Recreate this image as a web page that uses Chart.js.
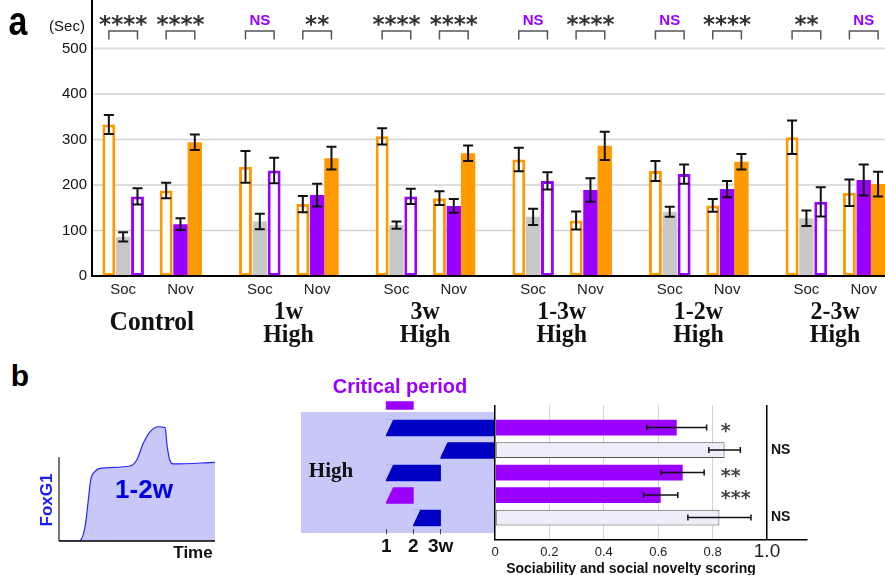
<!DOCTYPE html>
<html>
<head>
<meta charset="utf-8">
<script src="https://cdn.jsdelivr.net/npm/chart.js@4.4.1/dist/chart.umd.min.js"></script>
<style>
  html, body { margin: 0; padding: 0; background: #fff; overflow: hidden; }
  body { position: relative; width: 885px; height: 575px; font-family: 'Liberation Sans', Arial, sans-serif; }
  canvas { position: absolute; }
  .lbl { position: absolute; line-height: 1; white-space: nowrap; transform: translate(-50%, -50%); }
  .lavender { position: absolute; left: 301px; top: 412px; width: 194px; height: 121px; background: #c8c8f8; }
</style>
</head>
<body>
<div class="lavender"></div>
<canvas id="chartA" width="910" height="350" style="left:0;top:0"></canvas>
<canvas id="chartFox" width="175" height="140" style="left:50px;top:405px"></canvas>
<canvas id="chartTime" width="204" height="170" style="left:296px;top:390px"></canvas>
<canvas id="chartScore" width="350" height="180" style="left:470px;top:395px"></canvas>

<div class="lbl" style="left:18px;top:21px;font:bold 40px 'Liberation Sans';transform:translate(-50%,-50%) scaleX(0.85)">a</div>
<div class="lbl" style="left:67px;top:25px;font:15px 'Liberation Sans';color:#111">(Sec)</div>
<div class="lbl" style="left:20px;top:376px;font:bold 30px 'Liberation Sans'">b</div>
<div class="lbl" style="left:47px;top:500px;font:bold 17px 'Liberation Sans';color:#1a1aff;transform:translate(-50%,-50%) rotate(-90deg)">FoxG1</div>
<div class="lbl" style="left:144px;top:489px;font:bold 26px 'Liberation Sans';color:#0000e6">1-2w</div>
<div class="lbl" style="left:193px;top:553px;font:bold 17px 'Liberation Sans';color:#111">Time</div>
<div class="lbl" style="left:400px;top:386px;font:bold 20px 'Liberation Sans';color:#9900ff">Critical period</div>
<div class="lbl" style="left:331px;top:470px;font:bold 21px 'Liberation Serif';color:#111">High</div>
<div class="lbl" style="left:631px;top:568px;font:bold 14px 'Liberation Sans';color:#111">Sociability and social novelty scoring</div>

<script>
// ---- panel a: time spent (sec) ----
const groupNames = [['Control'], ['1w', 'High'], ['3w', 'High'], ['1-3w', 'High'], ['1-2w', 'High'], ['2-3w', 'High']];
const testNames = ['Soc', 'Nov'];
const socOrange = [333, 240, 307, 256, 231, 305];
const socOrangeErr = [21, 35, 18, 26, 22, 37];
const socGrey = [86, 120, 112, 130, 141, 127];
const socGreyErr = [10, 17, 8, 18, 11, 17];
const socPurple = [175, 232, 175, 209, 224, 163];
const socPurpleErr = [18, 28, 17, 19, 21, 32];
const novOrange = [188, 158, 171, 122, 155, 183];
const novOrangeErr = [17, 18, 15, 20, 14, 29];
const novPurple = [114, 178, 154, 189, 191, 211];
const novPurpleErr = [13, 25, 15, 26, 18, 34];
const novOrangeFill = [294, 259, 270, 286, 251, 202];
const novOrangeFillErr = [17, 25, 17, 31, 17, 27];
const socSig = ['****', 'NS', '****', 'NS', 'NS', '**'];
const novSig = ['****', '**', '****', '****', '****', 'NS'];
const secTicks = [0, 100, 200, 300, 400, 500];

// ---- panel b ----
const curveTime = [0, 13, 16.7, 18.8, 20.3, 23, 26.3, 45.5, 49.8, 54, 58.3, 63.7, 68, 69.4, 71, 73.3, 100];
const curveLevel = [0, 0, 17, 48.8, 72.6, 82.5, 86.5, 89.3, 96.4, 116.3, 130, 136, 135, 112, 96.4, 91.7, 93.7];
const baseTime = [45.5, 73.3];
const baseLevel = [89.3, 91.7];

const periodRows = ['Critical period', '1w', '3w', '1-3w', '1-2w', '2-3w'];
const highStart = [1, 1, 3, 1, 1, 2];
const highEnd = [2, 5, 5, 3, 2, 3];
const weekTicks = [1, 2, 3];
const weekLabels = ['1', '2', '3w'];

const scoreRows = ['1w', '3w', '1-3w', '1-2w', '2-3w'];
const scores = [0.668, 0.844, 0.69, 0.609, 0.825];
const scoreErr = [0.11, 0.058, 0.079, 0.063, 0.116];
const scoreSig = ['*', 'NS', '**', '***', 'NS'];
const scoreTicks = [0, 0.2, 0.4, 0.6, 0.8, 1.0];

const ORANGE = '#ff9900';
const PURPLE = '#9900ff';
const GREY = '#c8c8c8';
const NAVY = '#0000c4';
const LAVENDER = '#c8c8f8';

Chart.defaults.font.family = "'Liberation Sans', Arial, sans-serif";
Chart.defaults.animation = false;
Chart.defaults.events = [];
Chart.defaults.plugins.legend.display = false;
Chart.defaults.plugins.tooltip.enabled = false;

function drawText(ctx, text, x, y, font, color, sx, align) {
    ctx.save();
    ctx.font = font;
    ctx.fillStyle = color;
    ctx.textAlign = align || 'center';
    ctx.textBaseline = 'middle';
    ctx.translate(x, y);
    ctx.scale(sx || 1, 1);
    ctx.fillText(text, 0, 0);
    ctx.restore();
}

// stars drawn so that their ink is centred on y
function drawStars(ctx, text, x, y, size, color, align) {
    ctx.save();
    ctx.font = "bold " + size + "px 'DejaVu Sans'";
    ctx.fillStyle = color;
    ctx.textAlign = align || 'center';
    ctx.textBaseline = 'alphabetic';
    const m = ctx.measureText(text);
    const mid = (m.actualBoundingBoxAscent - m.actualBoundingBoxDescent) / 2;
    ctx.fillText(text, x, y + mid);
    ctx.restore();
}

const errorBars = {
    id: 'errorBars',
    afterDatasetsDraw(chart) {
        const ctx = chart.ctx;
        const horizontal = chart.options.indexAxis === 'y';
        const vScale = horizontal ? chart.scales.x : chart.scales.y;
        chart.data.datasets.forEach((ds, i) => {
            if (!ds.errors) return;
            chart.getDatasetMeta(i).data.forEach((bar, j) => {
                const v = ds.data[j];
                if (v == null) return;
                const a = vScale.getPixelForValue(v - ds.errors[j]);
                const b = vScale.getPixelForValue(v + ds.errors[j]);
                const cap = ds.capSize || 5;
                ctx.save();
                ctx.strokeStyle = '#111';
                ctx.lineWidth = ds.errWidth || 2;
                ctx.beginPath();
                if (horizontal) {
                    ctx.moveTo(a, bar.y); ctx.lineTo(b, bar.y);
                    ctx.moveTo(a, bar.y - cap); ctx.lineTo(a, bar.y + cap);
                    ctx.moveTo(b, bar.y - cap); ctx.lineTo(b, bar.y + cap);
                } else {
                    ctx.moveTo(bar.x, a); ctx.lineTo(bar.x, b);
                    ctx.moveTo(bar.x - cap, a); ctx.lineTo(bar.x + cap, a);
                    ctx.moveTo(bar.x - cap, b); ctx.lineTo(bar.x + cap, b);
                }
                ctx.stroke();
                ctx.restore();
            });
        });
    }
};

// ---------- panel a ----------
const AXIS_X = 92;

const panelA = {
    id: 'panelA',
    beforeDatasetsDraw(chart) {
        const ctx = chart.ctx, y = chart.scales.y, area = chart.chartArea;
        ctx.save();
        secTicks.forEach(t => {
            const py = y.getPixelForValue(t);
            if (t > 0) {
                ctx.strokeStyle = t === 500 ? '#dcdcdc' : '#d2d2d2';
                ctx.lineWidth = t === 500 ? 2 : 1.3;
                ctx.beginPath(); ctx.moveTo(AXIS_X, py); ctx.lineTo(area.right + 10, py); ctx.stroke();
            }
            drawText(ctx, String(t), 87, py, "15px 'Liberation Sans'", '#111', 1, 'right');
        });
        ctx.restore();
    },
    afterDatasetsDraw(chart) {
        const ctx = chart.ctx, y = chart.scales.y, x = chart.scales.x, area = chart.chartArea;
        ctx.save();
        ctx.strokeStyle = '#000';
        ctx.lineWidth = 2;
        ctx.beginPath();
        ctx.moveTo(AXIS_X, 0); ctx.lineTo(AXIS_X, y.getPixelForValue(0));
        ctx.lineTo(area.right + 10, y.getPixelForValue(0));
        ctx.stroke();

        const m = i => chart.getDatasetMeta(i).data;
        groupNames.forEach((name, g) => {
            const socX = m(1)[g].x, novX = m(5)[g].x;
            drawText(ctx, testNames[0], socX, 290, "15px 'Liberation Sans'", '#222');
            drawText(ctx, testNames[1], novX, 290, "15px 'Liberation Sans'", '#222');
            const cx = x.getPixelForValue(g);
            if (name.length === 1) {
                drawText(ctx, name[0], cx, 323, "bold 28px 'Liberation Serif'", '#111', 0.91);
            } else {
                drawText(ctx, name[0], cx, 312, "bold 26px 'Liberation Serif'", '#111', 0.92);
                drawText(ctx, name[1], cx, 335, "bold 26px 'Liberation Serif'", '#111', 0.92);
            }
            // brackets and significance
            [[m(0)[g].x, m(2)[g].x, socSig[g]], [m(4)[g].x, m(6)[g].x, novSig[g]]].forEach(([x0, x1, s]) => {
                ctx.strokeStyle = '#555';
                ctx.lineWidth = 1.5;
                ctx.beginPath();
                ctx.moveTo(x0, 39.5); ctx.lineTo(x0, 31); ctx.lineTo(x1, 31); ctx.lineTo(x1, 39.5);
                ctx.stroke();
                const mid = (x0 + x1) / 2;
                if (s === 'NS') drawText(ctx, s, mid, 21, "bold 15px 'Liberation Sans'", PURPLE);
                else drawStars(ctx, s, mid, 20, 23, '#333');
            });
        });
        ctx.restore();
    }
};

function barSet(data, errors, fill, border, opts) {
    return Object.assign({
        data: data, errors: errors, capSize: 5, errWidth: 2,
        backgroundColor: fill, borderColor: border,
        borderWidth: border ? 3 : 0, borderSkipped: false
    }, opts || {});
}

new Chart(document.getElementById('chartA'), {
    type: 'bar',
    data: {
        labels: groupNames.map(n => n.join(' ')),
        datasets: [
            barSet(socOrange, socOrangeErr, '#fff', ORANGE, { barPercentage: 0.9 }),
            barSet(socGrey, socGreyErr, GREY, null),
            barSet(socPurple, socPurpleErr, '#fff', PURPLE, { barPercentage: 0.9 }),
            { data: groupNames.map(() => null) },
            barSet(novOrange, novOrangeErr, '#fff', ORANGE, { barPercentage: 0.9 }),
            barSet(novPurple, novPurpleErr, PURPLE, null),
            barSet(novOrangeFill, novOrangeFillErr, ORANGE, null)
        ]
    },
    options: {
        responsive: false,
        layout: { padding: { left: 83.5, right: 6.6, top: 3, bottom: 74 } },
        datasets: { bar: { categoryPercentage: 0.734, barPercentage: 1 } },
        scales: {
            x: { display: false },
            y: { display: false, min: 0, max: 600 }
        }
    },
    plugins: [panelA, errorBars]
});

// ---------- panel b: FoxG1 curve ----------
const foxAxes = {
    id: 'foxAxes',
    afterDatasetsDraw(chart) {
        const ctx = chart.ctx, x = chart.scales.x, y = chart.scales.y;
        ctx.save();
        ctx.strokeStyle = '#777';
        ctx.lineWidth = 2;
        ctx.beginPath(); ctx.moveTo(x.getPixelForValue(0), y.getPixelForValue(0)); ctx.lineTo(x.getPixelForValue(0), y.getPixelForValue(100)); ctx.stroke();
        ctx.strokeStyle = '#000';
        ctx.lineWidth = 1.5;
        ctx.beginPath(); ctx.moveTo(x.getPixelForValue(0), y.getPixelForValue(0)); ctx.lineTo(x.getPixelForValue(100), y.getPixelForValue(0)); ctx.stroke();
        ctx.restore();
    }
};

new Chart(document.getElementById('chartFox'), {
    type: 'line',
    data: {
        datasets: [
            {
                data: curveTime.map((t, i) => ({ x: t, y: curveLevel[i] })),
                borderColor: '#2626ff', borderWidth: 1.2,
                backgroundColor: LAVENDER, fill: 'origin',
                pointRadius: 0, cubicInterpolationMode: 'monotone'
            },
            {
                data: baseTime.map((t, i) => ({ x: t, y: baseLevel[i] })),
                borderColor: '#555', borderWidth: 1, borderDash: [3, 2],
                fill: false, pointRadius: 0
            }
        ]
    },
    options: {
        responsive: false,
        layout: { padding: { left: 9, right: 10, top: 10, bottom: 4 } },
        scales: {
            x: { type: 'linear', display: false, min: 0, max: 100 },
            y: { display: false, min: 0, max: 150 }
        }
    },
    plugins: [foxAxes]
});

// ---------- panel b: high periods ----------
const slantCut = {
    id: 'slantCut',
    afterDatasetsDraw(chart) {
        const ctx = chart.ctx;
        ctx.save();
        ctx.fillStyle = LAVENDER;
        chart.getDatasetMeta(1).data.forEach((bar, i) => {
            if (chart.data.datasets[1].data[i] == null) return;
            const p = bar.getProps(['x', 'y', 'base', 'height'], true);
            const top = p.y - p.height / 2 - 0.5, bot = p.y + p.height / 2;
            ctx.beginPath();
            ctx.moveTo(p.base - 1, top); ctx.lineTo(p.base + 7, top); ctx.lineTo(p.base - 1, bot + 0.5);
            ctx.closePath(); ctx.fill();
        });
        ctx.restore();
    }
};

new Chart(document.getElementById('chartTime'), {
    type: 'bar',
    data: {
        labels: periodRows,
        datasets: [
            {
                data: periodRows.map((r, i) => i === 0 ? [highStart[i], highEnd[i]] : null),
                backgroundColor: PURPLE, barThickness: 8, grouped: false
            },
            {
                data: periodRows.map((r, i) => i === 0 ? null : [highStart[i], highEnd[i]]),
                backgroundColor: periodRows.map(r => r === '1-2w' ? PURPLE : NAVY),
                barThickness: 16, grouped: false
            }
        ]
    },
    options: {
        indexAxis: 'y',
        responsive: false,
        layout: { padding: { left: 5, right: 5, top: 4.25, bottom: 0 } },
        scales: {
            y: { display: false },
            x: {
                type: 'linear', min: -2.13, max: 5,
                afterBuildTicks: s => { s.ticks = weekTicks.map(v => ({ value: v })); },
                afterFit: s => { s.height = 30.75; },
                border: { display: false },
                grid: { drawOnChartArea: false, drawTicks: true, tickLength: 5, color: '#444' },
                ticks: {
                    padding: 1, color: '#111',
                    font: { size: 19, weight: 'bold' },
                    callback: (v, i) => weekLabels[i]
                }
            }
        }
    },
    plugins: [slantCut]
});

// ---------- panel b: scoring ----------
const scoreMarks = {
    id: 'scoreMarks',
    afterDraw(chart) {
        const ctx = chart.ctx, x = chart.scales.x;
        const bars = chart.getDatasetMeta(0).data;
        scoreRows.forEach((r, i) => {
            const y = bars[i + 1].y;
            if (scoreSig[i] === 'NS') drawText(ctx, 'NS', x.getPixelForValue(1) + 4, y, "bold 14px 'Liberation Sans'", '#111', 1, 'left');
            else drawStars(ctx, scoreSig[i], x.getPixelForValue(0.83), y, 19, '#444', 'left');
        });
        // the last tick is set larger, aligned on the baseline of the others
        ctx.save();
        ctx.font = "19px 'Liberation Sans'";
        ctx.fillStyle = '#222';
        ctx.textAlign = 'center';
        ctx.textBaseline = 'alphabetic';
        const last = scoreTicks[scoreTicks.length - 1];
        ctx.fillText(last.toFixed(1), x.getPixelForValue(last), chart.chartArea.bottom + 16.5);
        ctx.restore();
    }
};

const pad = arr => [null].concat(arr, [null]);

new Chart(document.getElementById('chartScore'), {
    type: 'bar',
    data: {
        labels: pad(scoreRows).map(r => r || ''),
        datasets: [{
            data: pad(scores),
            errors: pad(scoreErr), capSize: 3, errWidth: 1.5,
            backgroundColor: pad(scoreSig.map(s => s === 'NS' ? '#eeeefa' : PURPLE)),
            borderColor: '#555',
            borderWidth: pad(scoreSig.map(s => s === 'NS' ? 1 : 0)),
            borderSkipped: false,
            categoryPercentage: 1, barPercentage: 0.7
        }]
    },
    options: {
        indexAxis: 'y',
        responsive: false,
        layout: { padding: { left: 25, right: 13, top: 10, bottom: 0 } },
        scales: {
            y: { display: false, offset: false },
            x: {
                min: 0, max: 1.147,
                afterBuildTicks: s => { s.ticks = scoreTicks.map(v => ({ value: v })); },
                afterFit: s => { s.height = 35; },
                border: { display: true, color: '#000', width: 1.5 },
                grid: {
                    drawTicks: false,
                    color: c => (c.tick && (c.tick.value === 0 || c.tick.value === 1)) ? '#000' : '#d4d4d4',
                    lineWidth: c => (c.tick && (c.tick.value === 0 || c.tick.value === 1)) ? 1.5 : 1
                },
                ticks: {
                    padding: 5, color: '#222',
                    font: { size: 13 },
                    callback: v => v === 1 ? '' : (v === 0 ? '0' : v.toFixed(1))
                }
            }
        }
    },
    plugins: [errorBars, scoreMarks]
});
</script>
</body>
</html>
